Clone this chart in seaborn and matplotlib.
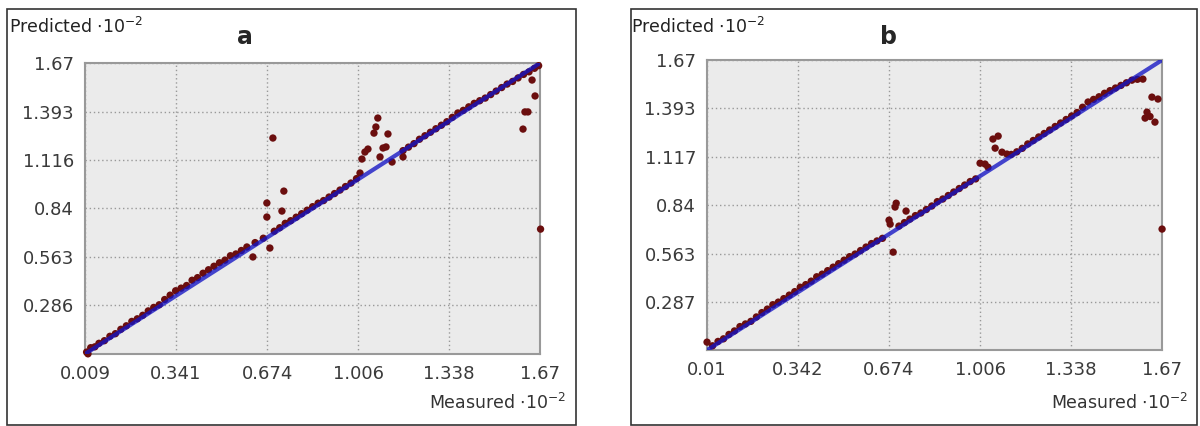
import matplotlib
matplotlib.use("Agg")
import matplotlib.pyplot as plt
import seaborn as sns
from matplotlib.patches import Rectangle

# panel a: measured vs predicted (units 10^-2)
a_measured = [0.015, 0.02, 0.03, 0.045, 0.06, 0.08, 0.10, 0.12, 0.14, 0.16, 0.18, 0.20,
              0.22, 0.24, 0.26, 0.28, 0.30, 0.32, 0.34, 0.36, 0.38, 0.40, 0.42, 0.44,
              0.46, 0.48, 0.50, 0.52, 0.54, 0.56, 0.58, 0.60, 0.63, 0.66, 0.70, 0.72,
              0.74, 0.76, 0.78, 0.80, 0.82, 0.84, 0.86, 0.88, 0.90, 0.92, 0.94, 0.96,
              0.98, 1.00, 1.17, 1.19, 1.21, 1.23, 1.25, 1.27, 1.29, 1.31, 1.33, 1.35,
              1.37, 1.39, 1.41, 1.43, 1.45, 1.47, 1.49, 1.51, 1.53, 1.55, 1.57, 1.59,
              1.61, 1.63, 1.65, 1.665,
              0.695, 0.735, 0.673, 0.728, 0.673, 0.684, 0.622,
              1.078, 1.071, 1.064, 1.115, 1.042, 1.031, 1.020, 1.108, 1.097, 1.086,
              1.130, 1.170, 1.013,
              1.641, 1.652, 1.615, 1.626, 1.608, 1.672]
a_predicted = [0.02, 0.01, 0.045, 0.05, 0.07, 0.085, 0.11, 0.125, 0.15, 0.17, 0.195, 0.21,
               0.23, 0.255, 0.275, 0.29, 0.32, 0.345, 0.37, 0.385, 0.40, 0.43, 0.445, 0.47,
               0.49, 0.51, 0.53, 0.545, 0.57, 0.58, 0.60, 0.62, 0.645, 0.67, 0.71, 0.73,
               0.755, 0.77, 0.79, 0.81, 0.83, 0.85, 0.87, 0.885, 0.905, 0.925, 0.945, 0.965,
               0.985, 1.01, 1.17, 1.19, 1.21, 1.235, 1.255, 1.275, 1.295, 1.315, 1.335, 1.36,
               1.385, 1.40, 1.42, 1.44, 1.455, 1.47, 1.49, 1.51, 1.53, 1.55, 1.565, 1.585,
               1.605, 1.62, 1.64, 1.655,
               1.242, 0.939, 0.871, 0.825, 0.791, 0.614, 0.563,
               1.356, 1.305, 1.270, 1.265, 1.179, 1.162, 1.122, 1.191, 1.185, 1.134,
               1.105, 1.134, 1.042,
               1.573, 1.482, 1.391, 1.391, 1.293, 0.722]

# panel b
b_measured = [0.03, 0.05, 0.07, 0.09, 0.11, 0.13, 0.15, 0.17, 0.19, 0.21, 0.23, 0.25,
              0.27, 0.29, 0.31, 0.33, 0.35, 0.37, 0.39, 0.41, 0.43, 0.45, 0.47, 0.49,
              0.51, 0.53, 0.55, 0.57, 0.59, 0.61, 0.63, 0.65, 0.71, 0.73, 0.75, 0.77,
              0.79, 0.81, 0.83, 0.85, 0.87, 0.89, 0.91, 0.93, 0.95, 0.97, 0.99, 1.12,
              1.14, 1.16, 1.18, 1.20, 1.22, 1.24, 1.26, 1.28, 1.30, 1.32, 1.34, 1.36,
              1.38, 1.40, 1.42, 1.44, 1.46, 1.48, 1.50, 1.52, 1.54, 1.56, 1.58,
              1.072, 1.053, 1.061, 1.086, 1.104, 1.006, 1.024, 1.035,
              0.696, 0.700, 0.674, 0.736, 0.678, 0.689,
              1.600, 1.633, 1.655, 1.615, 1.608, 1.626, 1.644, 1.670, 0.010]
b_predicted = [0.035, 0.06, 0.075, 0.10, 0.12, 0.145, 0.16, 0.175, 0.20, 0.225, 0.245, 0.27,
               0.285, 0.305, 0.325, 0.345, 0.37, 0.385, 0.405, 0.43, 0.445, 0.465, 0.485, 0.505,
               0.525, 0.545, 0.56, 0.58, 0.60, 0.62, 0.635, 0.65, 0.72, 0.74, 0.76, 0.78,
               0.795, 0.815, 0.835, 0.86, 0.875, 0.895, 0.915, 0.935, 0.955, 0.975, 0.99, 1.13,
               1.145, 1.165, 1.19, 1.21, 1.23, 1.25, 1.27, 1.29, 1.31, 1.33, 1.35, 1.37,
               1.40, 1.43, 1.445, 1.46, 1.48, 1.495, 1.51, 1.525, 1.54, 1.555, 1.56,
               1.235, 1.218, 1.166, 1.143, 1.132, 1.080, 1.075, 1.057,
               0.829, 0.851, 0.754, 0.806, 0.731, 0.571,
               1.561, 1.458, 1.447, 1.372, 1.338, 1.347, 1.315, 0.703, 0.056]

a_xticks = [0.009, 0.341, 0.674, 1.006, 1.338, 1.67]
a_xlabels = ["0.009", "0.341", "0.674", "1.006", "1.338", "1.67"]
a_yticks = [0.286, 0.563, 0.84, 1.116, 1.393, 1.67]
a_ylabels = ["0.286", "0.563", "0.84", "1.116", "1.393", "1.67"]

b_xticks = [0.01, 0.342, 0.674, 1.006, 1.338, 1.67]
b_xlabels = ["0.01", "0.342", "0.674", "1.006", "1.338", "1.67"]
b_yticks = [0.287, 0.563, 0.84, 1.117, 1.393, 1.67]
b_ylabels = ["0.287", "0.563", "0.84", "1.117", "1.393", "1.67"]

sns.set_style("white")
plt.rcParams['font.family'] = ['DejaVu Sans']

fig = plt.figure(figsize=(12, 4.26), dpi=100)

# outer frames
fig.patches.append(Rectangle((0.006, 0.003), 0.474, 0.975, transform=fig.transFigure,
                             fill=False, edgecolor="#333333", lw=1.2))
fig.patches.append(Rectangle((0.526, 0.003), 0.4715, 0.975, transform=fig.transFigure,
                             fill=False, edgecolor="#333333", lw=1.2))

panels = [
    ([0.0708, 0.169, 0.3792, 0.683], a_measured, a_predicted, a_xticks, a_xlabels,
     a_yticks, a_ylabels, "a", 0.204, 0.009),
    ([0.5892, 0.178, 0.3792, 0.681], b_measured, b_predicted, b_xticks, b_xlabels,
     b_yticks, b_ylabels, "b", 0.74, 0.01),
]

for pos, mx, py, xt, xl, yt, yl, tag, tag_x, lo in panels:
    ax = fig.add_axes(pos)
    ax.set_facecolor("#ebebeb")
    sns.scatterplot(x=mx, y=py, ax=ax, color="#6b0e0e", s=28, edgecolor="none",
                    zorder=3, clip_on=False)
    # y = x reference line, drawn over the points so they show purple on it
    sns.lineplot(x=[lo, 1.67], y=[lo, 1.67], ax=ax, color="#1414c4", lw=3,
                 alpha=0.78, zorder=4)
    ax.set_xlim(lo, 1.67)
    ax.set_ylim(lo, 1.67)
    ax.set_xticks(xt)
    ax.set_xticklabels(xl)
    ax.set_yticks(yt)
    ax.set_yticklabels(yl)
    ax.tick_params(length=0, labelsize=13, colors="#3a3a3a", pad=8)
    ax.grid(True, color="#999999", linestyle=(0, (1, 2)), lw=1)
    for s in ax.spines.values():
        s.set_color("#999999")
        s.set_linewidth(1.5)
    ax.set_xlabel("")
    ax.set_ylabel("")

    # axis captions
    fig.text(pos[0] - 0.063, 0.912, "Predicted $\\cdot$10$^{-2}$", fontsize=12.5,
             color="#222222", va="bottom")
    fig.text(tag_x, 0.885, tag, fontsize=17, fontweight="bold", ha="center", va="bottom")
    fig.text(pos[0] + pos[2] + 0.022, 0.03, "Measured $\\cdot$10$^{-2}$", fontsize=12.5,
             color="#333333", ha="right", va="bottom")

fig.savefig("out.png", dpi=100)
